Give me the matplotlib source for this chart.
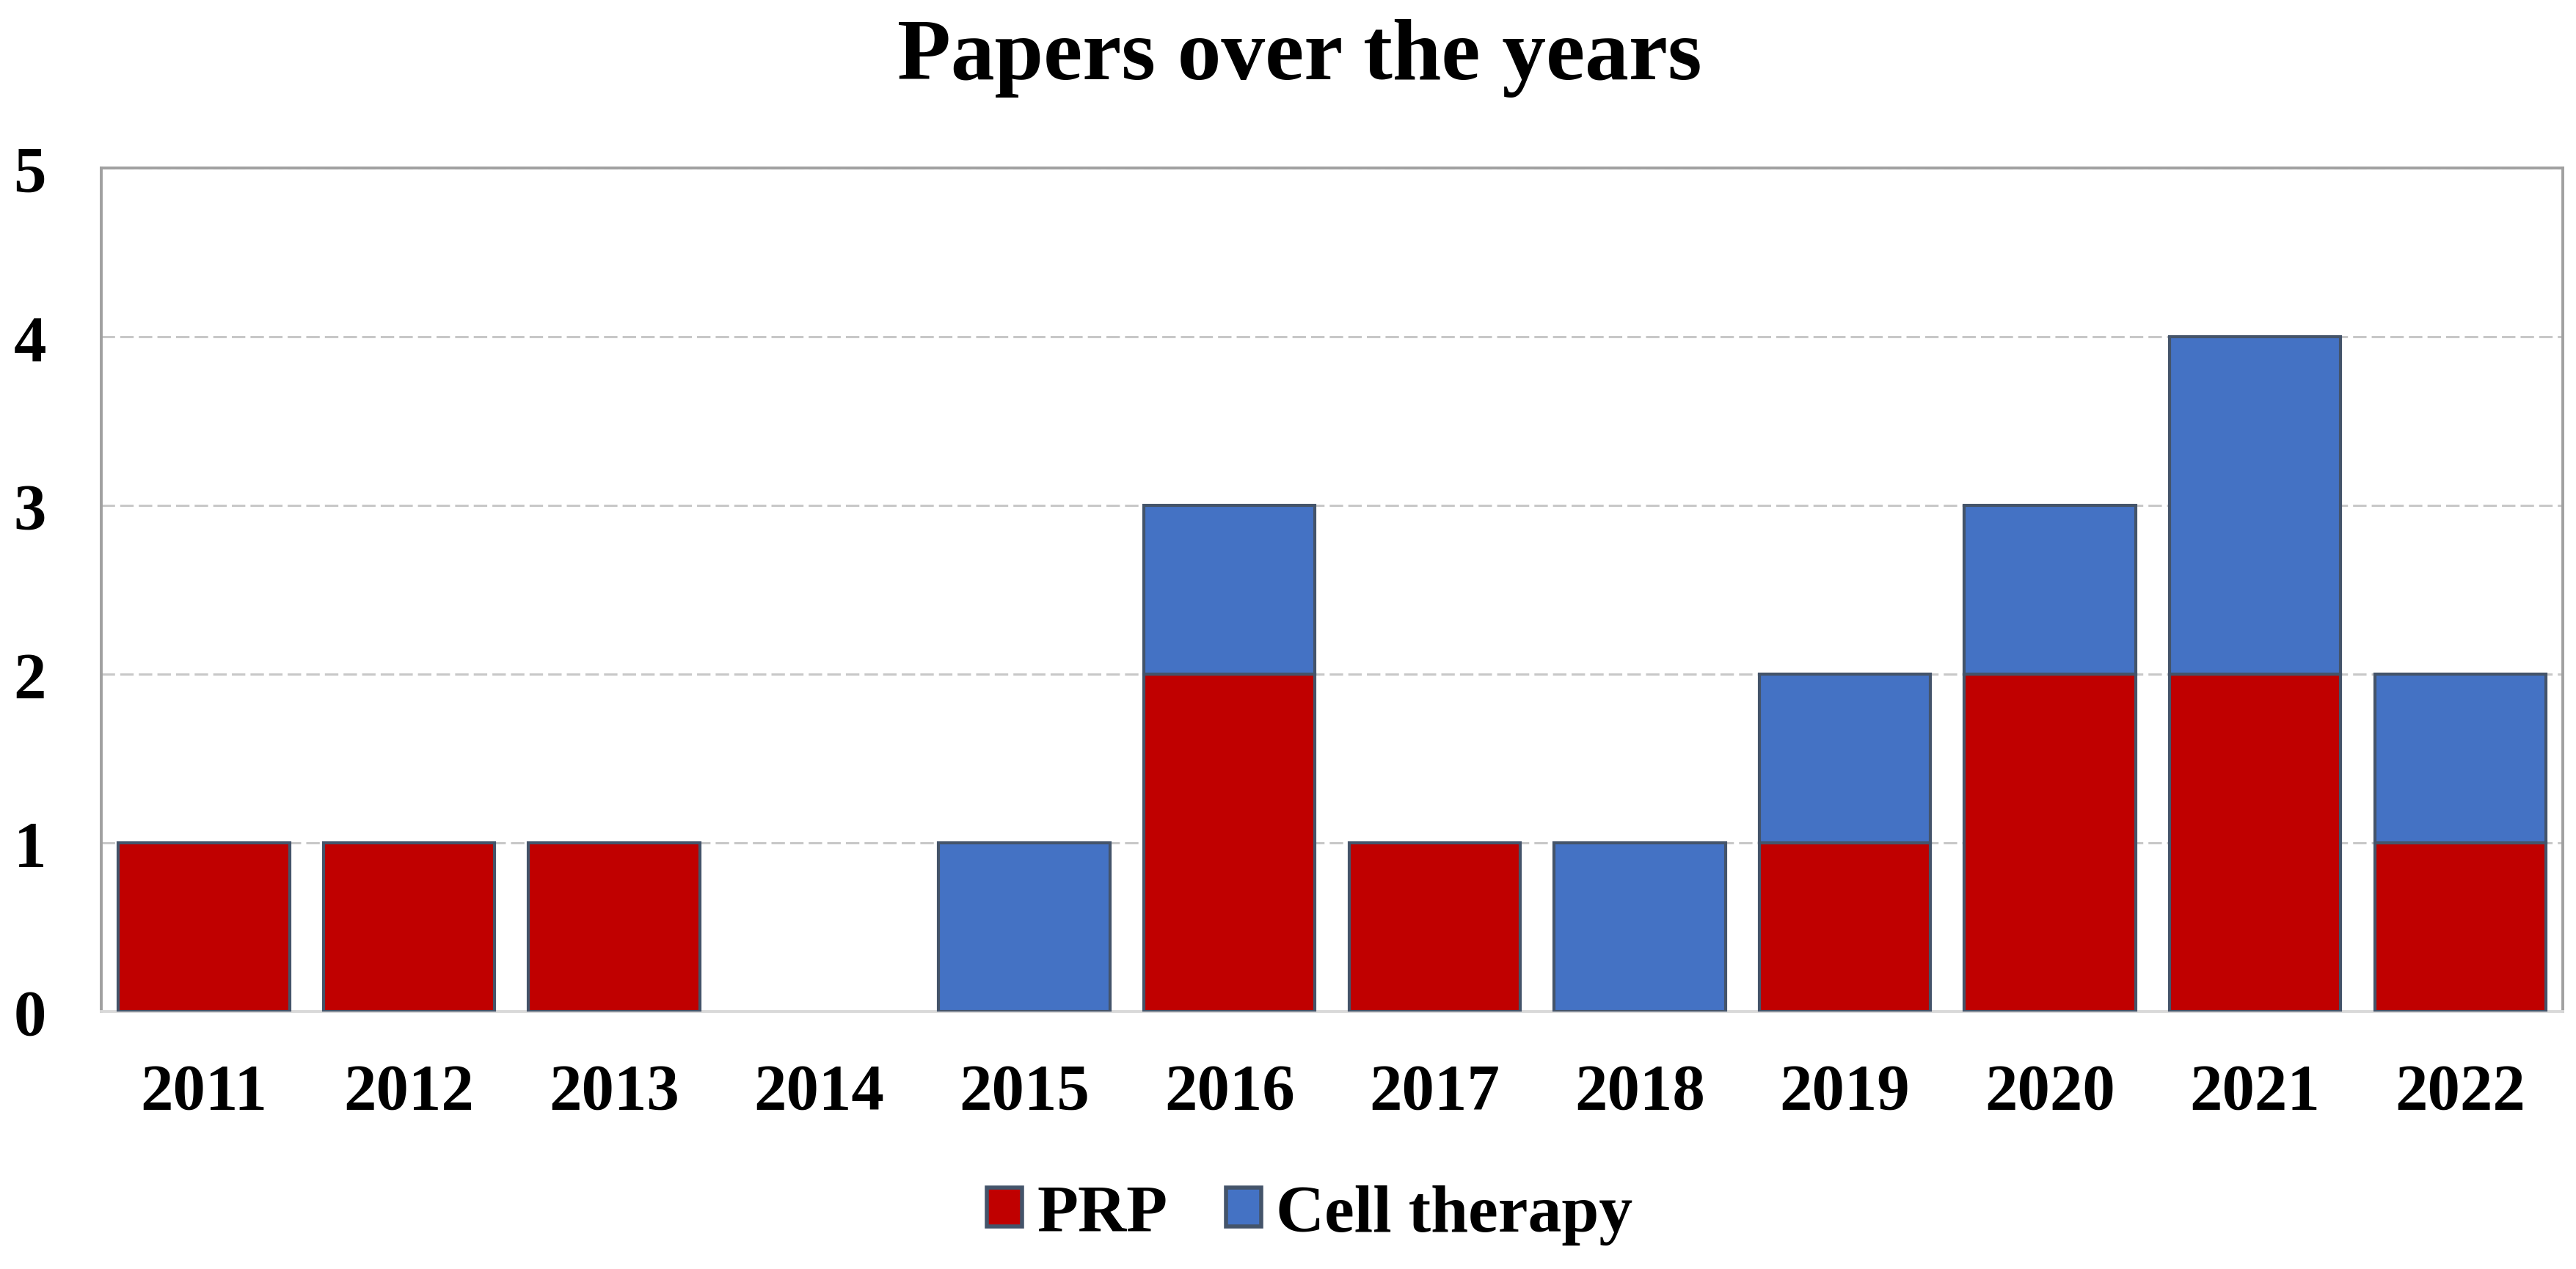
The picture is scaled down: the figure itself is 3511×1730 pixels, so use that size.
import matplotlib
matplotlib.use('Agg')
import matplotlib.pyplot as plt
from matplotlib.patches import Patch
import numpy as np

# Datos
anios = ['2011', '2012', '2013', '2014', '2015', '2016',
         '2017', '2018', '2019', '2020', '2021', '2022']
prp = [1, 1, 1, 0, 0, 2, 1, 0, 1, 2, 2, 1]
terapia_celular = [0, 0, 0, 0, 1, 1, 0, 1, 1, 1, 2, 1]

plt.rcParams['font.family'] = ['Liberation Serif', 'DejaVu Serif']
plt.rcParams['font.weight'] = 'bold'

rojo = '#C00000'
azul = '#4472C4'
borde = '#44546A'

fig = plt.figure(figsize=(17.56, 8.655), dpi=200)
ax = fig.add_axes([0.0393, 0.2028, 0.9553, 0.6643])

x = np.arange(len(anios))
ancho = 0.835
# sin borde en las barras de altura cero
lw_prp = [1.5 if v > 0 else 0 for v in prp]
lw_cel = [1.5 if v > 0 else 0 for v in terapia_celular]

ax.bar(x, prp, ancho, color=rojo, edgecolor=borde, linewidth=lw_prp, zorder=3)
ax.bar(x, terapia_celular, ancho, bottom=prp, color=azul, edgecolor=borde,
       linewidth=lw_cel, zorder=3)

ax.set_xlim(-0.5, len(anios) - 0.5)
ax.set_ylim(0, 5)
ax.set_xticks(x)
ax.set_xticklabels(anios)
ax.set_yticks(range(6))
ax.tick_params(axis='both', length=0, labelsize=32)
ax.tick_params(axis='y', pad=27)
ax.tick_params(axis='x', pad=25)
for lab in ax.get_xticklabels() + ax.get_yticklabels():
    lab.set_fontweight('bold')

ax.yaxis.grid(True, color='#C8C8C8', linewidth=1.1, linestyle=(0, (6, 2.3)), zorder=0)
ax.set_axisbelow(True)

for lado in ['left', 'top', 'right']:
    ax.spines[lado].set_color('#A0A0A0')
    ax.spines[lado].set_linewidth(1.4)
ax.spines['bottom'].set_color('#D9D9D9')
ax.spines['bottom'].set_linewidth(1.4)

fig.text(0.5043, 1 - 108 / 1731, 'Papers over the years', ha='center',
         va='baseline', fontsize=43, fontweight='bold')

manejadores = [Patch(facecolor=rojo, edgecolor=borde, linewidth=2.0, label='PRP'),
               Patch(facecolor=azul, edgecolor=borde, linewidth=2.0, label='Cell therapy')]
fig.legend(handles=manejadores, loc='center',
           bbox_to_anchor=(1785 / 3512, 1 - 1657 / 1731), ncol=2,
           frameon=False, prop={'size': 33, 'weight': 'bold'},
           handlelength=0.52, handleheight=0.52, handletextpad=0.22,
           columnspacing=0.87)

fig.savefig('out.png', dpi=200)
